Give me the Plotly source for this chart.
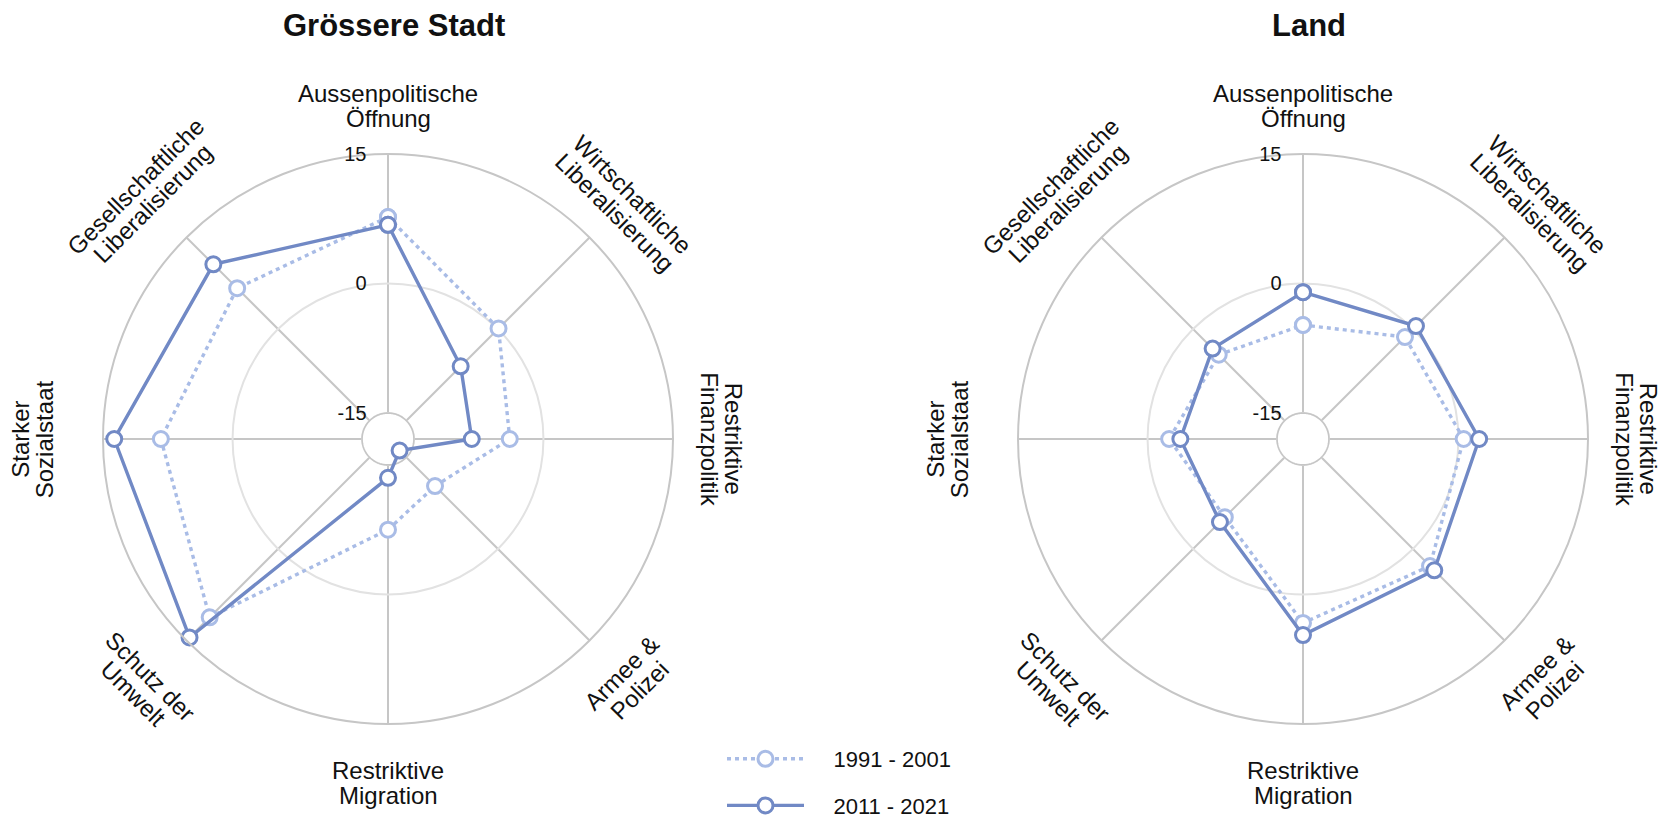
import numpy as np
import plotly.graph_objects as go

# ---------------- data ----------------
CATEGORIES = [
    "Aussenpolitische<br>Öffnung",
    "Wirtschaftliche<br>Liberalisierung",
    "Restriktive<br>Finanzpolitik",
    "Armee &<br>Polizei",
    "Restriktive<br>Migration",
    "Schutz der<br>Umwelt",
    "Starker<br>Sozialstaat",
    "Gesellschaftliche<br>Liberalisierung",
]
PANELS = ["Grössere Stadt", "Land"]
SERIES = ["1991 - 2001", "2011 - 2021"]

stadt_1991 = [7.7, 0.1, -3.9, -10.3, -7.5, 11.2, 8.3, 6.7]
stadt_2011 = [6.8, -6.1, -8.3, -16.1, -13.5, 14.5, 13.7, 10.6]
land_1991 = [-4.8, -1.3, 0.6, 2.8, 3.3, -5.2, -2.5, -4.2]
land_2011 = [-1.0, 0.5, 2.4, 3.5, 4.7, -4.4, -3.8, -3.2]

TICKS = [-15, 0, 15]
R_RANGE = [-18, 15]

# ---------------- style ----------------
W, H = 1673, 822
FONT = "Liberation Sans, Arial, Helvetica, sans-serif"
C_OLD = "#a9bce6"
C_NEW = "#7189c5"
GRID = "#c6c6c6"
GRID_LIGHT = "#e2e2e2"
CENTERS = [(388, 439), (1303, 439)]
RADIUS = 285
LABEL_R = [333, 333, 333, 343, 344, 348, 356, 345]
LINE_GAP = 24.5
LABEL_SIZE = 24

n = len(CATEGORIES)
theta = [i * 360 / n for i in range(n)]


def closed(a):
    return list(a) + [a[0]]


def py2paper(py):
    return 1 - py / H


fig = go.Figure()
data = [(stadt_1991, stadt_2011), (land_1991, land_2011)]
annotations = []

for p, (old, new) in enumerate(data):
    sub = "polar" if p == 0 else "polar2"
    # inner (-15) circle: white disc covering the spokes
    circ_t = np.linspace(0, 360, 181)
    fig.add_trace(go.Scatterpolar(
        r=[TICKS[0]] * len(circ_t), theta=circ_t, mode="lines",
        fill="toself", fillcolor="white",
        line=dict(color=GRID, width=1.6),
        hoverinfo="skip", showlegend=False, subplot=sub))
    fig.add_trace(go.Scatterpolar(
        r=closed(old), theta=closed(theta), mode="lines+markers",
        name="&nbsp;&nbsp;&nbsp;&nbsp;" + SERIES[0], legendgroup="a",
        showlegend=(p == 0),
        line=dict(color=C_OLD, width=3.4, dash="4px,4px"),
        marker=dict(size=15, color="white", line=dict(color=C_OLD, width=3)),
        subplot=sub))
    fig.add_trace(go.Scatterpolar(
        r=closed(new), theta=closed(theta), mode="lines+markers",
        name="&nbsp;&nbsp;&nbsp;&nbsp;" + SERIES[1], legendgroup="b",
        showlegend=(p == 0),
        line=dict(color=C_NEW, width=3.4),
        marker=dict(size=15, color="white", line=dict(color=C_NEW, width=3)),
        subplot=sub))

    cx, cy = CENTERS[p]
    # panel title
    annotations.append(dict(
        text="<b>" + PANELS[p] + "</b>", x=(cx + 6) / W, y=py2paper(25),
        xref="paper", yref="paper", showarrow=False,
        xanchor="center", yanchor="middle",
        font=dict(family=FONT, size=31, color="#111")))
    # category labels (one annotation per line, rotated tangentially)
    for i, lab in enumerate(CATEGORIES):
        th = theta[i]
        if th <= 90:
            phi = th
        elif th < 270:
            phi = th - 180
        else:
            phi = th - 360
        t = np.radians(th)
        f = np.radians(phi)
        dx, dy = np.sin(t), -np.cos(t)
        downx, downy = -np.sin(f), np.cos(f)
        lines = lab.split("<br>")
        for k, ln in enumerate(lines):
            off = (k - (len(lines) - 1) / 2) * LINE_GAP
            px = cx + LABEL_R[i] * dx + off * downx
            py = cy + LABEL_R[i] * dy + off * downy
            annotations.append(dict(
                text=ln, x=px / W, y=py2paper(py), xref="paper", yref="paper",
                showarrow=False, xanchor="center", yanchor="middle",
                textangle=phi,
                font=dict(family=FONT, size=LABEL_SIZE, color="#111")))


def polar_layout(cx, cy):
    return dict(
        domain=dict(x=[(cx - RADIUS) / W, (cx + RADIUS) / W],
                    y=[py2paper(cy + RADIUS), py2paper(cy - RADIUS)]),
        bgcolor="white",
        radialaxis=dict(
            range=R_RANGE, tickmode="array", tickvals=TICKS,
            ticktext=[str(v) for v in TICKS], tickangle=90,
            angle=90, side="counterclockwise", showline=False,
            ticks="outside", ticklen=14, tickcolor="rgba(0,0,0,0)",
            gridcolor=GRID_LIGHT, gridwidth=1.6,
            tickfont=dict(family=FONT, size=20, color="#111"),
            layer="above traces"),
        angularaxis=dict(
            type="linear", thetaunit="degrees", direction="clockwise",
            rotation=90, tickmode="array", tickvals=theta,
            showticklabels=False, ticks="",
            showline=True, linecolor=GRID, linewidth=2,
            gridcolor=GRID, gridwidth=1.6),
    )


fig.update_layout(
    width=W, height=H, autosize=False,
    margin=dict(l=0, r=0, t=0, b=0, autoexpand=False),
    paper_bgcolor="white",
    polar=polar_layout(*CENTERS[0]),
    polar2=polar_layout(*CENTERS[1]),
    annotations=annotations,
    showlegend=True,
    legend=dict(
        x=722 / W, y=py2paper(738), xanchor="left", yanchor="top",
        font=dict(family=FONT, size=22, color="#111"),
        tracegroupgap=15, itemwidth=77, bgcolor="rgba(0,0,0,0)"),
)

fig.write_html(
    "out.html",
    config={"responsive": False, "displayModeBar": False},
    post_script="document.body.style.margin='0';document.body.style.overflow='hidden';",
)
